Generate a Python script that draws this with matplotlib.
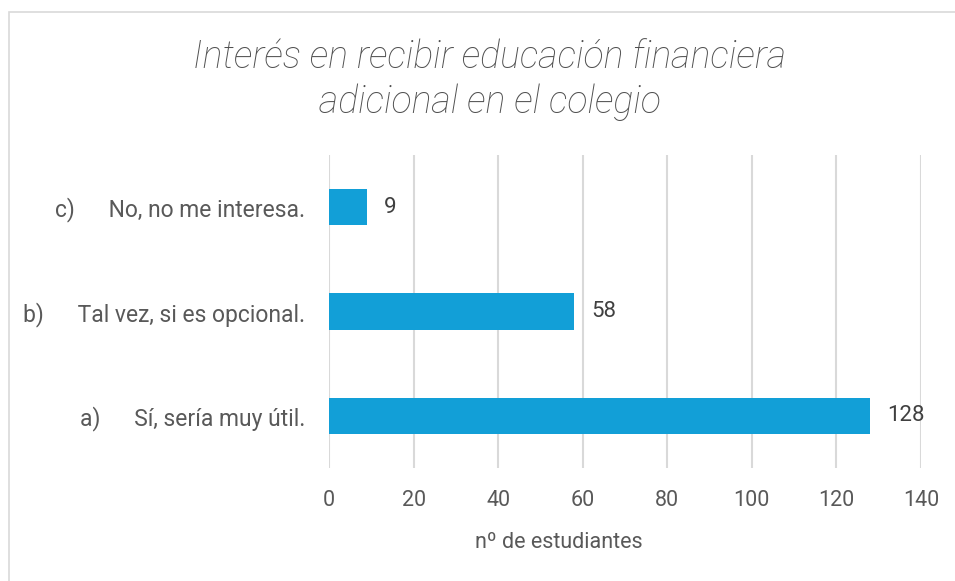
import matplotlib.pyplot as plt
from matplotlib.patches import Rectangle

# Datos de la encuesta
etiquetas = ["a)      Sí, sería muy útil.",
             "b)      Tal vez, si es opcional.",
             "c)      No, no me interesa."]
valores = [128, 58, 9]
ticks_x = [0, 20, 40, 60, 80, 100, 120, 140]

color_barra = '#129FD7'
color_texto = '#595959'

plt.rcParams['font.family'] = ['Roboto', 'DejaVu Sans']

fig = plt.figure(figsize=(9.55, 5.81), dpi=100)
ax = fig.add_axes([0.3445, 0.1945, 0.6199, 0.5387])

# Marco del gráfico
fig.patches.append(Rectangle((9 / 955, -0.1), 1.1, (581 - 12) / 581 + 0.1,
                             transform=fig.transFigure, fill=False,
                             edgecolor='#d9d9d9', linewidth=1.2))

pos = range(len(valores))
ax.barh(pos, valores, height=0.35, color=color_barra, zorder=3)

for y, v in zip(pos, valores):
    ax.annotate(str(v), (v, y), xytext=(12, 0), textcoords='offset points',
                va='center', ha='left', fontsize=16, color='#404040')

ax.set_xlim(0, 140)
ax.set_ylim(-0.5, 2.5)
ax.set_xticks(ticks_x)
ax.set_yticks(list(pos))
ax.set_yticklabels(etiquetas, fontsize=16.5)
ax.tick_params(axis='both', length=0, labelcolor=color_texto)
ax.tick_params(axis='x', labelsize=15.5, pad=16)
ax.tick_params(axis='y', pad=17)
ax.grid(axis='x', color='#d9d9d9', linewidth=1.5, zorder=0)
for s in ax.spines.values():
    s.set_visible(False)

ax.set_xlabel('nº de estudiantes', fontsize=15.5, color=color_texto)
ax.xaxis.set_label_coords(0.389, -0.205)

fig.text(0.513, 0.863, 'Interés en recibir educación financiera\nadicional en el colegio',
         ha='center', va='center', fontsize=27, style='italic', fontweight='light',
         color='#505050', linespacing=1.25)

fig.savefig('out.png', dpi=100, facecolor='white')
